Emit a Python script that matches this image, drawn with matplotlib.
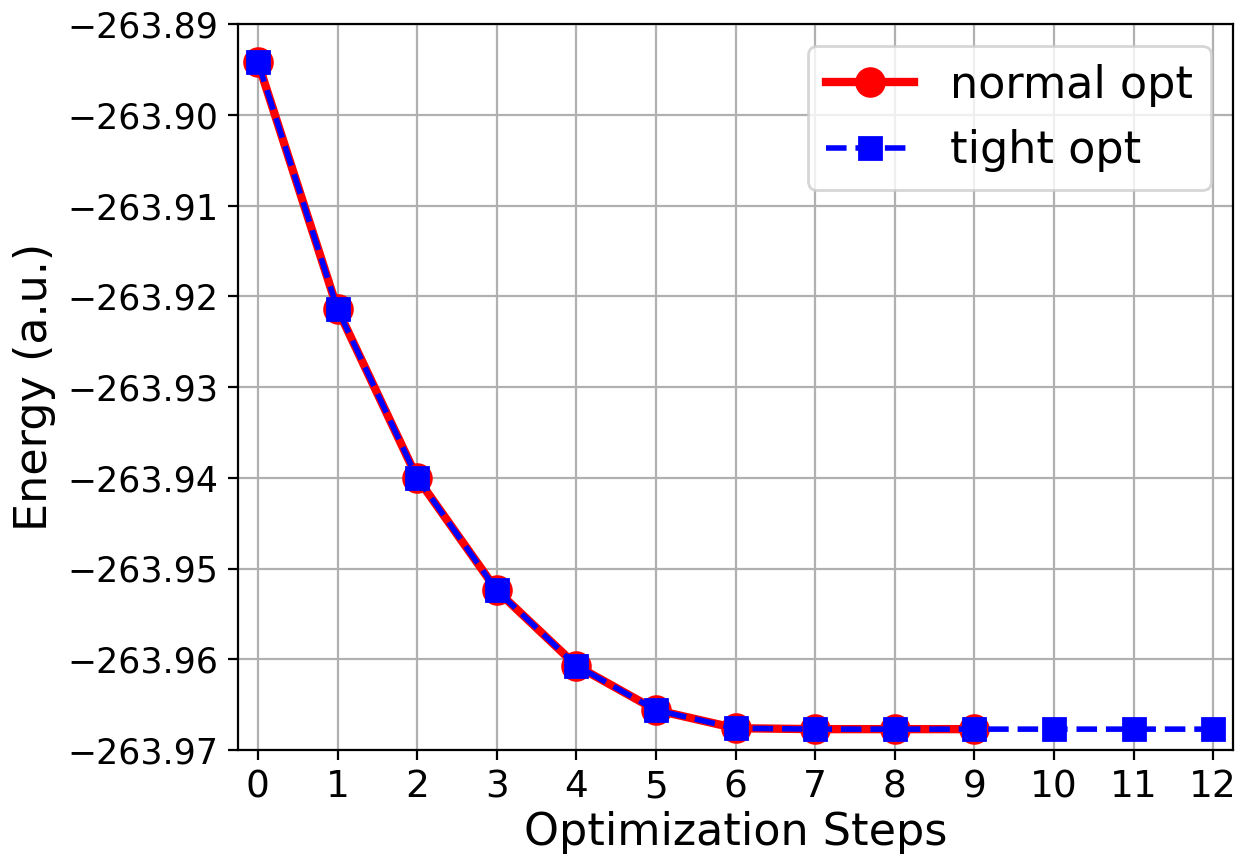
import matplotlib
matplotlib.use("Agg")
import matplotlib.pyplot as plt

normal_steps = [0, 1, 2, 3, 4, 5, 6, 7, 8, 9]
normal_energy = [-263.8942, -263.9214, -263.9400, -263.9524, -263.9607,
                 -263.9656, -263.9676, -263.9677, -263.9677, -263.9677]
tight_steps = [0, 1, 2, 3, 4, 5, 6, 7, 8, 9, 10, 11, 12]
tight_energy = [-263.8942, -263.9214, -263.9400, -263.9524, -263.9607,
                -263.9656, -263.9676, -263.9677, -263.9677, -263.9677,
                -263.9677, -263.9677, -263.9677]
yticks = [-263.97, -263.96, -263.95, -263.94, -263.93, -263.92, -263.91, -263.90, -263.89]

fig = plt.figure(figsize=(12.41 / 2, 8.57 / 2), dpi=200)
ax = fig.add_axes([238 / 1241, 1 - 750 / 857, (1233 - 238) / 1241, (750 - 24) / 857])
ax.plot(normal_steps, normal_energy, color="red", linestyle="-", linewidth=3,
        marker="o", markersize=10, label="normal opt")
ax.plot(tight_steps, tight_energy, color="blue", linestyle="--", linewidth=2,
        marker="s", markersize=8, label="tight opt")
ax.set_xlim(-0.25, 12.25)
ax.set_ylim(-263.97, -263.89)
ax.set_xticks(tight_steps)
ax.set_yticks(yticks)
ax.set_yticklabels([f"{v:.2f}".replace("-", "\u2212") for v in yticks])
ax.tick_params(axis="x", labelsize=13.5)
ax.tick_params(axis="y", labelsize=12.5)
ax.set_xlabel("Optimization Steps", fontsize=16, labelpad=2)
ax.set_ylabel("Energy (a.u.)", fontsize=16)
ax.grid(True)
ax.legend(loc="upper right", fontsize=16)
fig.savefig("out.png", dpi=200)
